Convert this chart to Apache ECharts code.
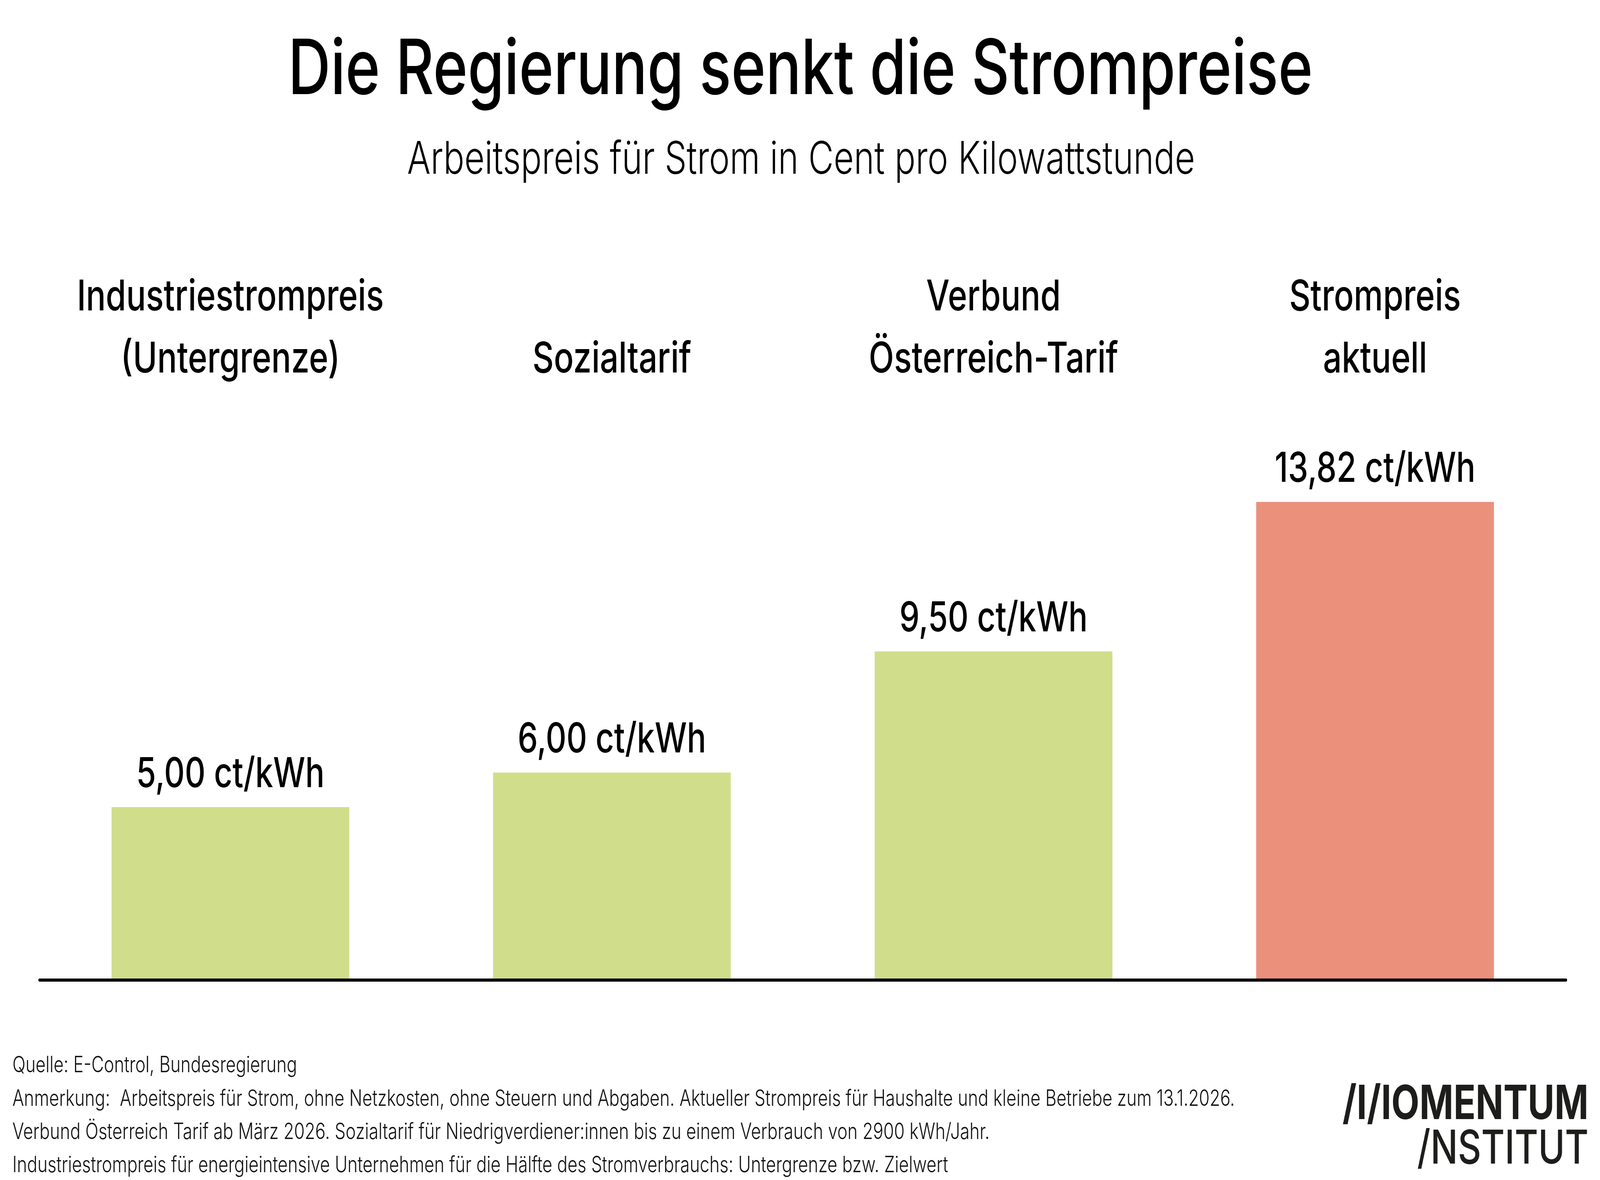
<!DOCTYPE html>
<html>
<head>
<meta charset="utf-8">
<script src="https://cdn.jsdelivr.net/npm/echarts@6/dist/echarts.min.js"></script>
<style>
html,body{margin:0;padding:0;background:#fff;overflow:hidden;}
#chart{width:5293px;height:3022px;transform-origin:0 0;}
</style>
</head>
<body>
<div id="chart"></div>
<script>
const titleText = 'Die Regierung senkt die Strompreise';
const subtitleText = 'Arbeitspreis für Strom in Cent pro Kilowattstunde';
const categories = ['Industriestrompreis\n(Untergrenze)', 'Sozialtarif', 'Verbund\nÖsterreich-Tarif', 'Strompreis\naktuell'];
const values = [5.00, 6.00, 9.50, 13.82];
const barColors = ['#D0DE8B', '#D0DE8B', '#D0DE8B', '#EB907B'];
const unitText = ' ct/kWh';
const footnotes = [
  'Quelle: E-Control, Bundesregierung',
  'Anmerkung:  Arbeitspreis für Strom, ohne Netzkosten, ohne Steuern und Abgaben. Aktueller Strompreis für Haushalte und kleine Betriebe zum 13.1.2026.',
  'Verbund Österreich Tarif ab März 2026. Sozialtarif für Niedrigverdiener:innen bis zu einem Verbrauch von 2900 kWh/Jahr.',
  'Industriestrompreis für energieintensive Unternehmen für die Hälfte des Stromverbrauchs: Untergrenze bzw. Zielwert'
];
const logoLines = ['/I/IOMENTUM', '/NSTITUT'];

// The design is laid out on a 5293 x 3022 canvas; map it onto the real window.
const W = 5293, H = 3022;
const dom = document.getElementById('chart');
const sx = (window.innerWidth || W) / W, sy = (window.innerHeight || H) / H;
if (Math.abs(sx - 1) > 0.001 || Math.abs(sy - 1) > 0.001) {
  dom.style.transform = 'scale(' + sx + ',' + sy + ')';
}

const FONT = 'Inter, "Noto Sans", sans-serif';
const mctx = document.createElement('canvas').getContext('2d');
function fit(text, weight, target) {
  mctx.font = weight + ' 100px ' + FONT;
  return 100 * target / mctx.measureText(text).width;
}

const titleFs = fit(titleText, 500, 3390);
const subFs = fit(subtitleText, 300, 2607);
const footFs = fit(footnotes[1], 300, 4044);
const logo1Fs = fit(logoLines[0], 700, 814);
const logo2Fs = fit(logoLines[1], 500, 567);

function txt(text, x, baseline, fs, weight, align, color) {
  return {
    type: 'text', x: x, y: baseline - 0.364 * fs, z: 10,
    style: {
      text: text, fontSize: fs, fontWeight: weight, fontFamily: FONT,
      fill: color || '#000', align: align, verticalAlign: 'middle',
      textAlign: align, textVerticalAlign: 'middle'
    }
  };
}

const graphics = [
  txt(titleText, 2648, 253, titleFs, 500, 'center'),
  txt(subtitleText, 2650, 452, subFs, 300, 'center'),
  txt(logoLines[0], 5255, 2874, logo1Fs, 700, 'right', '#1d1d1b'),
  txt(logoLines[1], 5255, 2988, logo2Fs, 500, 'right', '#1d1d1b')
];
const footBaselines = [2750, 2836, 2921, 3006];
footnotes.forEach((f, i) => graphics.push(txt(f, 41, footBaselines[i], footFs, 300, 'left', '#111')));

const chart = echarts.init(dom, null, {renderer: 'canvas', width: W, height: H});
chart.setOption({
  backgroundColor: '#ffffff',
  animation: false,
  grid: {left: 131, right: 113, top: 1181, bottom: 512, containLabel: false},
  xAxis: [
    {
      type: 'category', data: categories, position: 'bottom', z: 5,
      axisLine: {show: true, lineStyle: {color: '#000', width: 8}},
      axisTick: {show: false}, axisLabel: {show: false}, splitLine: {show: false}
    },
    {
      type: 'category', data: categories, position: 'top',
      axisLine: {show: false}, axisTick: {show: false}, splitLine: {show: false},
      axisLabel: {
        show: true, interval: 0, margin: 180, color: '#000',
        fontFamily: FONT, fontWeight: 500, fontSize: 109, lineHeight: 159
      }
    }
  ],
  yAxis: {type: 'value', min: 0, max: 15, show: false, splitLine: {show: false}},
  series: [{
    type: 'bar', xAxisIndex: 0, barWidth: '62.3%',
    data: values.map((v, i) => ({value: v, itemStyle: {color: barColors[i]}})),
    label: {
      show: true, position: 'top', distance: 30, color: '#000',
      fontFamily: FONT, fontWeight: 500, fontSize: 106,
      formatter: p => p.value.toFixed(2).replace('.', ',') + unitText
    }
  }],
  graphic: graphics
});
</script>
</body>
</html>
